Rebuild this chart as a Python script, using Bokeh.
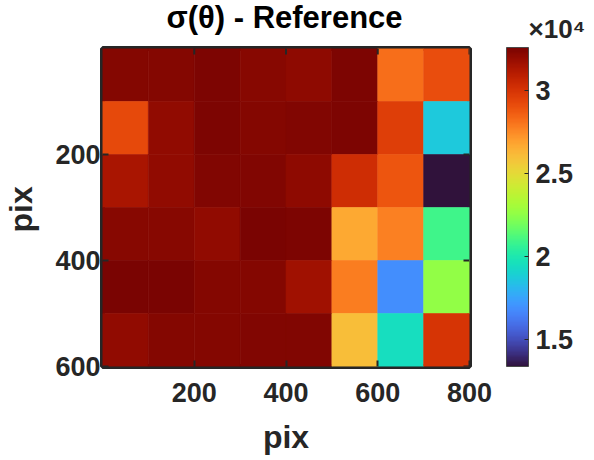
import math
from bokeh.plotting import figure
from bokeh.models import (LinearColorMapper, ColorBar, FixedTicker, Range1d,
                          ColumnDataSource)
from bokeh.transform import transform
from bokeh.palettes import Turbo256
from bokeh.embed import file_html
from bokeh.resources import INLINE

# ---- data ----
x_centers = [50, 150, 250, 350, 450, 550, 650, 750]
y_centers = [50, 150, 250, 350, 450, 550]
row_0 = [32390, 32390, 32500, 32300, 32110, 32500, 28230, 29150]
row_1 = [29310, 32070, 32500, 32350, 32450, 32500, 29680, 18680]
row_2 = [31420, 32030, 32450, 32420, 32110, 30350, 28900, 13380]
row_3 = [32280, 32280, 32020, 32620, 32500, 26700, 27750, 20900]
row_4 = [32620, 32620, 32320, 32350, 31650, 27810, 16840, 22600]
row_5 = [32090, 32390, 32370, 32450, 32450, 26040, 19540, 30000]
rows = [row_0, row_1, row_2, row_3, row_4, row_5]
cell_size = 100
x_ticks = [200, 400, 600, 800]
y_ticks = [200, 400, 600]
cbar_ticks = [15000, 20000, 25000, 30000]
cbar_labels = ["1.5", "2", "2.5", "3"]
c_low, c_high = 13380, 32620
x_min, x_max = 0, 800
y_min, y_max = 0, 600

xs, ys, vals = [], [], []
for yc, r in zip(y_centers, rows):
    for xc, v in zip(x_centers, r):
        xs.append(xc)
        ys.append(yc)
        vals.append(v)
src = ColumnDataSource(dict(x=xs, y=ys, v=vals))

FONT = "Liberation Sans"
DARK = "#262626"

mapper = LinearColorMapper(palette=Turbo256, low=c_low, high=c_high)

p = figure(width=594, height=457,
           x_range=Range1d(x_min, x_max), y_range=Range1d(y_max, y_min),
           output_backend="svg", toolbar_location=None,
           min_border_left=102, min_border_top=48, min_border_bottom=90,
           min_border_right=125, background_fill_color="white")

p.rect(x="x", y="y", width=cell_size, height=cell_size, source=src,
       fill_color=transform("v", mapper), line_color=transform("v", mapper),
       line_width=0.6)

# mirrored inward tick marks on the top and right edges
p.ray(x=x_ticks, y=[y_min] * len(x_ticks), length=6, length_units="screen",
      angle=-math.pi / 2, line_color=DARK, line_width=2)
p.ray(x=[x_max] * len(y_ticks), y=y_ticks, length=6, length_units="screen",
      angle=math.pi, line_color=DARK, line_width=2)

p.grid.visible = False
p.outline_line_color = DARK
p.outline_line_width = 5
p.outline_line_alpha = 1.0

for ax, ticks in ((p.xaxis[0], x_ticks), (p.yaxis[0], y_ticks)):
    ax.ticker = FixedTicker(ticks=ticks)
    ax.axis_line_color = None
    ax.major_tick_in = 6
    ax.major_tick_out = 0
    ax.major_tick_line_color = DARK
    ax.major_tick_line_width = 2
    ax.minor_tick_line_color = None
    ax.major_label_text_font = FONT
    ax.major_label_text_font_size = "27px"
    ax.major_label_text_font_style = "bold"
    ax.major_label_text_color = DARK

p.xaxis.axis_label = "pix"
p.xaxis.axis_label_text_font = FONT
p.xaxis.axis_label_text_font_size = "32px"
p.xaxis.axis_label_text_font_style = "bold"
p.xaxis.axis_label_text_color = DARK
p.xaxis.major_label_standoff = 16
p.xaxis.axis_label_standoff = 14
p.yaxis.major_label_standoff = 2

cb = ColorBar(color_mapper=mapper, width=22, height=319,
              location=(404, 0),
              ticker=FixedTicker(ticks=cbar_ticks),
              major_label_overrides=dict(zip(cbar_ticks, cbar_labels)),
              major_label_text_font=FONT,
              major_label_text_font_size="27px",
              major_label_text_font_style="bold",
              major_label_text_color=DARK,
              major_tick_in=4, major_tick_out=0,
              major_tick_line_color=DARK, major_tick_line_width=1,
              minor_tick_line_color=None,
              bar_line_color="#4a4a4a", bar_line_width=1,
              label_standoff=7, padding=0, margin=0,
              border_line_color=None, background_fill_color=None)
p.add_layout(cb)


def text_note(text, loc, orientation, size, color):
    """A free text placed by a bar-less colour bar title."""
    return ColorBar(color_mapper=mapper, orientation=orientation,
                    width=1, height=1, location=loc,
                    ticker=FixedTicker(ticks=[]), scale_alpha=0,
                    bar_line_color=None, major_tick_line_color=None,
                    minor_tick_line_color=None, padding=0, margin=0,
                    border_line_color=None, background_fill_color=None,
                    title=text, title_text_font=FONT,
                    title_text_font_size=size, title_text_font_style="bold",
                    title_text_color=color, title_standoff=0)


# plot title, y-axis label and the exponent note of the colour scale
p.add_layout(text_note("σ(θ) - Reference", (64, 331), "horizontal",
                       "31px", "black"))
p.add_layout(text_note("pix", (-102, 134), "vertical", "32px", DARK))
p.add_layout(text_note("×10⁴", (426, 322), "horizontal", "26px", DARK))

open("out.html", "w").write(file_html(p, INLINE))
